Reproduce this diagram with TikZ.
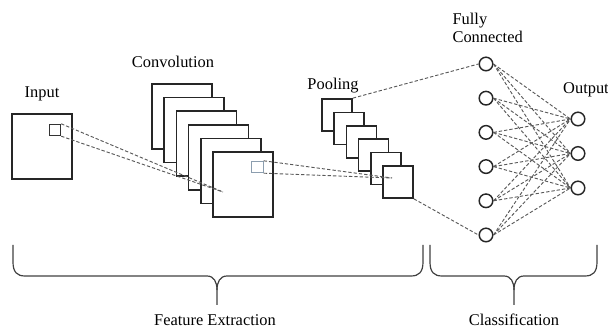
\documentclass[tikz,border=0pt]{standalone}
\usepackage{fontspec}
\setmainfont{Liberation Serif}
\usetikzlibrary{positioning}

\definecolor{kernelblue}{RGB}{140,158,175}

\tikzset{
  fmap/.style={draw=black!85, line width=1.3pt, fill=white, minimum width=45pt, minimum height=48.75pt, inner sep=0pt},
  pmap/.style={draw=black!85, line width=1.3pt, fill=white, minimum width=22.5pt, minimum height=24pt, inner sep=0pt},
  kernel/.style={draw=#1, line width=0.8pt, minimum size=8.5pt, inner sep=0pt},
  neuron/.style={circle, draw=black!85, line width=1.1pt, fill=white, minimum size=10.2pt, inner sep=0pt},
  link/.style={dashed, dash pattern=on 2.5pt off 1.5pt, draw=black!65, line width=0.7pt},
  bracestyle/.style={draw=black!75, line width=0.9pt, line join=round},
  title/.style={font=\fontsize{12.3}{14}\selectfont, inner sep=1pt}
}

% curly brace under a block: left x, tip x, right x
\newcommand{\cnnbrace}[3]{%
  \draw[bracestyle] (#1,245) -- (#1,262) .. controls (#1,272) and (#1+4,276) .. (#1+12,276)
    -- (#2-10,276) .. controls (#2-3,276) and (#2,282) .. (#2,290) -- (#2,305);
  \draw[bracestyle] (#2,290) .. controls (#2,282) and (#2+3,276) .. (#2+10,276)
    -- (#3-12,276) .. controls (#3-4,276) and (#3,272) .. (#3,262) -- (#3,245);
}

\begin{document}
\begin{tikzpicture}[x=0.75pt, y=-0.75pt]
  \useasboundingbox (0,0) rectangle (608,331);

  % input image
  \node[fmap] (input) at (42,146.5) {};
  \node[kernel=black!80] (insq) at (55,130) {};
  \node[title] (inputlbl) at (42,94) {Input};

  % convolution maps
  \foreach \i in {1,...,6}
    \node[fmap] (conv\i) at ({182+12.2*(\i-1)},{116.5+13.6*(\i-1)}) {};
  \node[kernel=kernelblue] (csq) at (257.5,167) {};
  \node[title] (convlbl) at (173,62) {Convolution};

  % pooling maps
  \foreach \i in {1,...,6}
    \node[pmap] (pool\i) at ({337+12.2*(\i-1)},{115+13.4*(\i-1)}) {};
  \node[title] (poollbl) at (333,86) {Pooling};

  % fully connected and output neurons
  \foreach \i in {1,...,6}
    \node[neuron] (fc\i) at ({486},{64+34.2*(\i-1)}) {};
  \foreach \j in {1,2,3}
    \node[neuron] (out\j) at ({578},{119+34.5*(\j-1)}) {};
  \node[title, anchor=west, align=left] (fclbl) at (451,28) {Fully\\Connected};
  \node[title] (outlbl) at (586,90) {Output};

  % receptive field lines
  \coordinate (cfocus) at (223,192);
  \coordinate (pfocus) at (392,178);
  \draw[link] (insq.north east) -- (cfocus);
  \draw[link] (insq.south east) -- (cfocus);
  \draw[link] (csq.north east) -- (pfocus);
  \draw[link] (csq.south east) -- (pfocus);
  \draw[link] (pool1.north east) -- (fc1.west);
  \draw[link] (pool6.south east) -- (fc6.west);
  \foreach \i in {1,...,6}
    \foreach \j in {1,2,3}
      \draw[link] (fc\i.east) -- (out\j.west);

  % braces
  \cnnbrace{13}{217}{423}
  \cnnbrace{430}{514}{597}
  \node[title] (featlbl) at (215,320) {Feature Extraction};
  \node[title] (clslbl) at (514,320) {Classification};
\end{tikzpicture}
\end{document}
